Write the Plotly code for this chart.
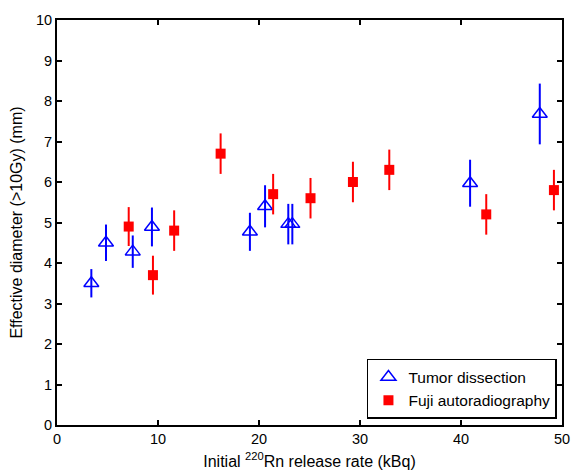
import plotly.graph_objects as go

# Tumor dissection
td_x = [3.4, 4.85, 7.5, 9.4, 19.1, 20.6, 22.9, 23.3, 40.9, 47.8]
td_y = [3.5, 4.5, 4.28, 4.89, 4.77, 5.4, 4.96, 4.96, 5.97, 7.68]
td_err = [0.35, 0.45, 0.4, 0.48, 0.47, 0.52, 0.5, 0.5, 0.58, 0.75]

# Fuji autoradiography
fa_x = [7.1, 9.5, 11.6, 16.2, 21.4, 25.1, 29.3, 32.9, 42.5, 49.2]
fa_y = [4.9, 3.7, 4.8, 6.7, 5.7, 5.6, 6.0, 6.3, 5.2, 5.8]
fa_err = [0.48, 0.48, 0.5, 0.5, 0.5, 0.5, 0.5, 0.5, 0.5, 0.5]

x_ticks = [0, 10, 20, 30, 40, 50]
y_ticks = list(range(0, 11))

FONT = "Liberation Sans, Arial, Helvetica, sans-serif"

fig = go.Figure()
fig.add_trace(go.Scatter(
    x=td_x, y=td_y, mode="markers", name="Tumor dissection",
    marker=dict(symbol="triangle-up-open", size=13, color="#0000ff",
                line=dict(width=1.5, color="#0000ff")),
    error_y=dict(type="data", array=td_err, visible=True, width=0,
                 thickness=2, color="#0000ff"),
))
fig.add_trace(go.Scatter(
    x=fa_x, y=fa_y, mode="markers", name="Fuji autoradiography",
    marker=dict(symbol="square", size=10, color="#ff0000",
                line=dict(width=0)),
    error_y=dict(type="data", array=fa_err, visible=True, width=0,
                 thickness=2, color="#ff0000"),
))

axis_common = dict(
    showline=True, linecolor="black", linewidth=2, mirror="ticks",
    ticks="inside", ticklen=5, tickwidth=1.5, tickcolor="black",
    showgrid=False, zeroline=False, automargin=False,
    tickfont=dict(family=FONT, size=14.5, color="black"),
)

# page body has an 8px margin, so the figure is offset by (8, 8)
fig.update_layout(
    width=572, height=465,
    margin=dict(l=49, r=18, t=12, b=48),
    plot_bgcolor="white", paper_bgcolor="white",
    font=dict(family=FONT, size=14, color="black"),
    xaxis=dict(range=[0, 50], tickvals=x_ticks,
               title=dict(text="Initial <sup>220</sup>Rn release rate (kBq)",
                          font=dict(size=16), standoff=9),
               **axis_common),
    yaxis=dict(range=[0, 10], tickvals=y_ticks,
               title=dict(text="Effective diameter (>10Gy) (mm)",
                          font=dict(size=16), standoff=12),
               **axis_common),
    legend=dict(x=0.99, y=0.015, xanchor="right", yanchor="bottom",
                bordercolor="black", borderwidth=1.5, bgcolor="white",
                font=dict(size=15.5), tracegroupgap=0),
    showlegend=True,
)

fig.write_html("out.html")
